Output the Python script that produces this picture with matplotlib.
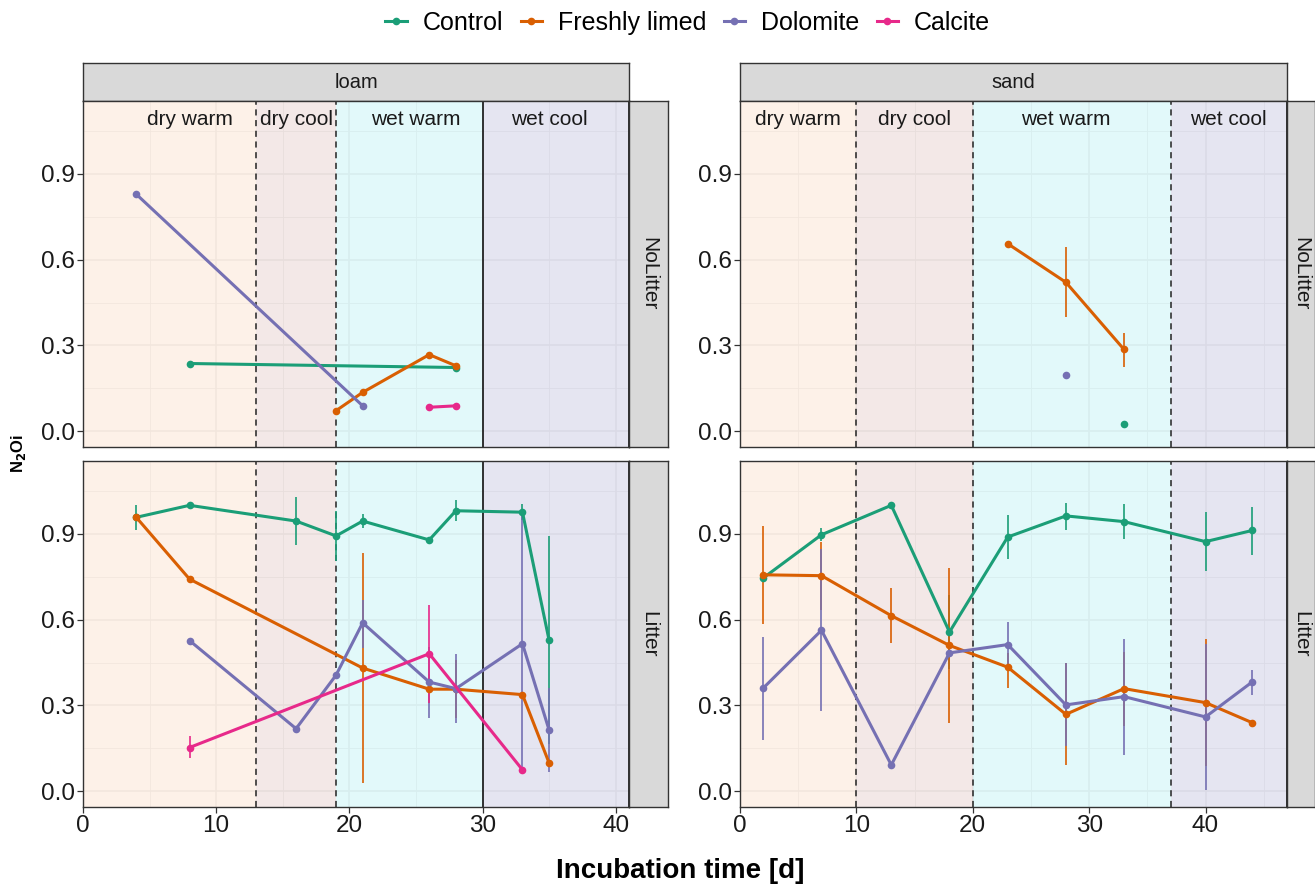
import numpy as np
import matplotlib
matplotlib.use("Agg")
import matplotlib.pyplot as plt
from matplotlib.lines import Line2D
from matplotlib.colors import to_rgb

plt.rcParams['font.family'] = ['Liberation Sans', 'DejaVu Sans']

nan = np.nan

treatments = ['Control', 'Freshly limed', 'Dolomite', 'Calcite']
colors = {'Control': '#1B9E77', 'Freshly limed': '#D95F02',
          'Dolomite': '#7570B3', 'Calcite': '#E7298A'}

# phases per soil: boundaries, label x, colour
phase_names = ['dry warm', 'dry cool', 'wet warm', 'wet cool']
phase_colors = ['#FEF2E8', '#F3E8E7', '#E3F9FA', '#E6E5F2']
loam_bounds = [0, 13, 19, 30, 41]
loam_label_x = [8, 16, 25, 35]
loam_line_dash = [True, True, False, False]   # lines at 13, 19, 30, 41
sand_bounds = [0, 10, 20, 37, 47]
sand_label_x = [5, 15, 28, 42]
sand_line_dash = [True, True, True, False]

# ---- loam, NoLitter ----
loam_nl_control_x = [8, 28]
loam_nl_control_y = [0.237, 0.223]
loam_nl_fresh_x = [19, 21, 26, 28]
loam_nl_fresh_y = [0.072, 0.136, 0.268, 0.229]
loam_nl_dolo_x = [4, 21]
loam_nl_dolo_y = [0.829, 0.089]
loam_nl_calc_x = [26, 28]
loam_nl_calc_y = [0.084, 0.089]

# ---- loam, Litter ----
loam_l_control_x = [4, 8, 16, 19, 21, 26, 28, 33, 35]
loam_l_control_y = [0.958, 1.0, 0.945, 0.893, 0.945, 0.879, 0.981, 0.976, 0.528]
loam_l_control_lo = [0.912, nan, 0.862, 0.807, 0.920, nan, 0.945, 0.950, 0.165]
loam_l_control_hi = [1.001, nan, 1.028, 0.981, 0.970, nan, 1.019, 1.005, 0.891]
loam_l_fresh_x = [4, 8, 21, 26, 28, 33, 35]
loam_l_fresh_y = [0.958, 0.742, 0.431, 0.357, 0.357, 0.338, 0.099]
loam_l_fresh_lo = [nan, nan, 0.029, 0.31, 0.255, nan, nan]
loam_l_fresh_hi = [nan, nan, 0.835, 0.41, 0.46, nan, nan]
loam_l_dolo_x = [8, 16, 19, 21, 26, 28, 33, 35]
loam_l_dolo_y = [0.527, 0.219, 0.406, 0.589, 0.382, 0.359, 0.516, 0.214]
loam_l_dolo_lo = [nan, nan, nan, 0.502, 0.255, 0.240, 0.078, 0.066]
loam_l_dolo_hi = [nan, nan, nan, 0.670, 0.506, 0.480, 0.978, 0.362]
loam_l_calc_x = [8, 26, 33]
loam_l_calc_y = [0.153, 0.481, 0.075]
loam_l_calc_lo = [0.116, 0.31, nan]
loam_l_calc_hi = [0.192, 0.652, nan]

# ---- sand, NoLitter ----
sand_nl_control_x = [33]
sand_nl_control_y = [0.024]
sand_nl_fresh_x = [23, 28, 33]
sand_nl_fresh_y = [0.656, 0.521, 0.286]
sand_nl_fresh_lo = [nan, 0.399, 0.225]
sand_nl_fresh_hi = [nan, 0.644, 0.345]
sand_nl_dolo_x = [28]
sand_nl_dolo_y = [0.197]

# ---- sand, Litter ----
sand_l_control_x = [2, 7, 13, 18, 23, 28, 33, 40, 44]
sand_l_control_y = [0.746, 0.897, 1.0, 0.557, 0.889, 0.963, 0.943, 0.873, 0.912]
sand_l_control_lo = [nan, 0.875, nan, 0.426, 0.812, 0.914, 0.883, 0.769, 0.827]
sand_l_control_hi = [nan, 0.920, nan, 0.688, 0.966, 1.009, 1.003, 0.976, 0.995]
sand_l_fresh_x = [2, 7, 13, 18, 23, 28, 33, 40, 44]
sand_l_fresh_y = [0.757, 0.754, 0.614, 0.510, 0.434, 0.269, 0.359, 0.310, 0.240]
sand_l_fresh_lo = [0.585, 0.633, 0.519, 0.240, 0.361, 0.093, 0.229, 0.090, nan]
sand_l_fresh_hi = [0.929, 0.873, 0.710, 0.780, 0.484, 0.449, 0.487, 0.531, nan]
sand_l_dolo_x = [2, 7, 13, 18, 23, 28, 33, 40, 44]
sand_l_dolo_y = [0.361, 0.563, 0.092, 0.484, 0.513, 0.302, 0.331, 0.260, 0.382]
sand_l_dolo_lo = [0.180, 0.279, nan, nan, 0.440, 0.159, 0.127, 0.005, 0.338]
sand_l_dolo_hi = [0.540, 0.847, nan, nan, 0.591, 0.447, 0.533, 0.516, 0.423]

panels = {
    ('loam', 'NoLitter'): [
        ('Control', loam_nl_control_x, loam_nl_control_y, None, None),
        ('Freshly limed', loam_nl_fresh_x, loam_nl_fresh_y, None, None),
        ('Dolomite', loam_nl_dolo_x, loam_nl_dolo_y, None, None),
        ('Calcite', loam_nl_calc_x, loam_nl_calc_y, None, None)],
    ('loam', 'Litter'): [
        ('Control', loam_l_control_x, loam_l_control_y, loam_l_control_lo, loam_l_control_hi),
        ('Freshly limed', loam_l_fresh_x, loam_l_fresh_y, loam_l_fresh_lo, loam_l_fresh_hi),
        ('Dolomite', loam_l_dolo_x, loam_l_dolo_y, loam_l_dolo_lo, loam_l_dolo_hi),
        ('Calcite', loam_l_calc_x, loam_l_calc_y, loam_l_calc_lo, loam_l_calc_hi)],
    ('sand', 'NoLitter'): [
        ('Control', sand_nl_control_x, sand_nl_control_y, None, None),
        ('Freshly limed', sand_nl_fresh_x, sand_nl_fresh_y, sand_nl_fresh_lo, sand_nl_fresh_hi),
        ('Dolomite', sand_nl_dolo_x, sand_nl_dolo_y, None, None)],
    ('sand', 'Litter'): [
        ('Control', sand_l_control_x, sand_l_control_y, sand_l_control_lo, sand_l_control_hi),
        ('Freshly limed', sand_l_fresh_x, sand_l_fresh_y, sand_l_fresh_lo, sand_l_fresh_hi),
        ('Dolomite', sand_l_dolo_x, sand_l_dolo_y, sand_l_dolo_lo, sand_l_dolo_hi)],
}

soil_setup = {
    'loam': (loam_bounds, loam_label_x, loam_line_dash),
    'sand': (sand_bounds, sand_label_x, sand_line_dash),
}


def tint(hexcol, a):
    # base colour that gives hexcol when drawn with alpha a on white
    c = np.array(to_rgb(hexcol))
    return tuple(np.clip(1 - (1 - c) / a, 0, 1))


W, H = 1315, 886
fig = plt.figure(figsize=(W / 100, H / 100), dpi=100)


def fbox(x0, y0, x1, y1):
    return [x0 / W, 1 - y1 / H, (x1 - x0) / W, (y1 - y0) / H]


edge = '#333333'
txt = '#1A1A1A'
col_px = {'loam': (83, 629, 668), 'sand': (740, 1287, 1315)}
row_px = {'NoLitter': (101, 447), 'Litter': (461, 807)}
ylim = (-0.055, 1.155)

for soil, (x0, x1, x2) in col_px.items():
    bounds, label_x, dashes = soil_setup[soil]
    # top strip
    sax = fig.add_axes(fbox(x0, 63, x1, 101))
    sax.set_facecolor('#D9D9D9')
    sax.set_xticks([]); sax.set_yticks([])
    for s in sax.spines.values():
        s.set_color(edge); s.set_linewidth(1.0)
    sax.text(0.5, 0.5, soil, ha='center', va='center', fontsize=14.5,
             color=txt, transform=sax.transAxes)

    for litter, (y0, y1) in row_px.items():
        ax = fig.add_axes(fbox(x0, y0, x1, y1))
        ax.set_xticks([0, 10, 20, 30, 40])
        ax.set_xticks([t for t in [5, 15, 25, 35, 45] if t < bounds[-1]], minor=True)
        ax.set_yticks([0.0, 0.3, 0.6, 0.9])
        ax.set_yticks([0.15, 0.45, 0.75, 1.05], minor=True)
        ax.set_yticklabels(['0.0', '0.3', '0.6', '0.9'])
        ax.set_xlim(bounds[0], bounds[-1])
        ax.set_ylim(*ylim)
        ax.set_axisbelow(True)
        ax.grid(which='major', color='#E4E4E4', lw=1.2)
        ax.grid(which='minor', color='#E4E4E4', lw=0.6)
        ax.tick_params(which='major', length=4, width=0.9, color=edge,
                       labelsize=17.5, labelcolor=txt, pad=2)
        ax.tick_params(which='minor', length=0)
        if litter == 'NoLitter':
            ax.tick_params(axis='x', which='major', labelbottom=False, length=0)
        for s in ax.spines.values():
            s.set_color(edge); s.set_linewidth(1.0)

        for i in range(4):
            ax.axvspan(bounds[i], bounds[i + 1], color=tint(phase_colors[i], 0.6),
                       alpha=0.6, lw=0, zorder=0.8)
            if litter == 'NoLitter':
                ax.text(label_x[i], 1.09, phase_names[i], ha='center', va='center',
                        fontsize=15, color=txt, zorder=5)
            xb = bounds[i + 1]
            if dashes[i]:
                ax.axvline(xb, color='#222222', lw=1.1, ls=(0, (4, 3)), zorder=1)
            else:
                ax.axvline(xb, color='#222222', lw=1.3, zorder=1)

        for name, xs, ys, lo, hi in panels[(soil, litter)]:
            c = colors[name]
            if lo is not None:
                ax.vlines(xs, lo, hi, color=c, lw=1.2, zorder=2)
            ax.plot(xs, ys, color=c, lw=2.2, zorder=3,
                    marker='o', markersize=5.5, markeredgewidth=0)

        # right strip
        rax = fig.add_axes(fbox(x1, y0, x2, y1))
        rax.set_facecolor('#D9D9D9')
        rax.set_xticks([]); rax.set_yticks([])
        for s in rax.spines.values():
            s.set_color(edge); s.set_linewidth(1.0)
        rax.text(0.5, 0.5, litter, ha='center', va='center', rotation=-90,
                 fontsize=15, color=txt, transform=rax.transAxes)

handles = [Line2D([0], [0], color=colors[t], lw=2.2, marker='o', markersize=5.5,
                  markeredgewidth=0) for t in treatments]
fig.legend(handles, treatments, loc='center', bbox_to_anchor=(0.523, 1 - 23 / H),
           ncol=4, frameon=False, fontsize=18, handlelength=0.85,
           handletextpad=0.64, columnspacing=0.7)

fig.text(18 / W, 1 - 453 / H, r'N$_\mathbf{2}$Oi', rotation=90, ha='center',
         va='center', fontsize=12, fontweight='bold')
fig.text(680 / W, 1 - 871 / H, 'Incubation time [d]', ha='center', va='center',
         fontsize=20, fontweight='bold')

fig.savefig('out.png', dpi=100)
